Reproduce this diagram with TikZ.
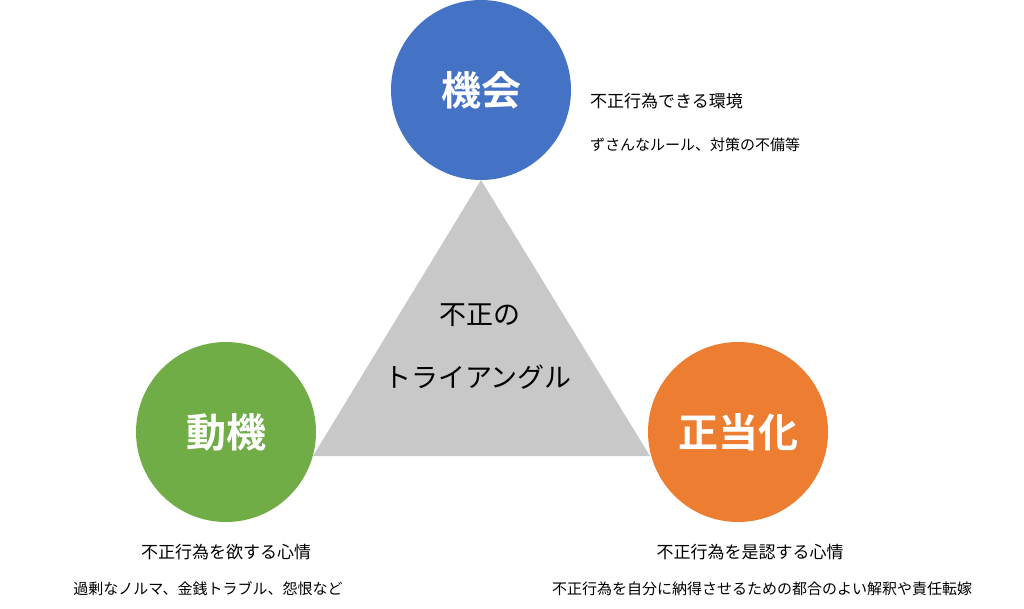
\documentclass[tikz,border=0pt]{standalone}
\usepackage{fontspec}
\newfontfamily\cjk{Noto Sans CJK JP}
\newfontfamily\cjkb{Noto Sans CJK JP Bold}
\definecolor{cblue}{HTML}{4472C4}
\definecolor{cgreen}{HTML}{70AD47}
\definecolor{corange}{HTML}{ED7D31}
\definecolor{cgray}{HTML}{C8C8C8}
\begin{document}
\begin{tikzpicture}[x=1pt,y=-1pt,
  circ/.style={circle,minimum size=180pt,inner sep=0pt,text=white,font=\cjkb\fontsize{40}{40}\selectfont},
  lbl/.style={inner sep=0pt,font=\cjk\fontsize{17}{17}\selectfont},
  sub/.style={inner sep=0pt,font=\cjk\fontsize{15}{15}\selectfont}]
\useasboundingbox[fill=white] (0,0) rectangle (1024,608);
\coordinate (A) at (481,180);
\coordinate (B) at (313,456);
\coordinate (C) at (650,456);
\fill[cgray] (A) -- (B) -- (C) -- cycle;
\node[circ,fill=cblue] (kikai) at (481,90) {機会};
\node[circ,fill=cgreen] (doki) at (226,432) {動機};
\node[circ,fill=corange] (seito) at (738,432) {正当化};
\node[inner sep=0pt,font=\cjk\fontsize{27}{27}\selectfont] (t1) at (480,315) {不正の};
\node[inner sep=0pt,font=\cjk\fontsize{27}{27}\selectfont] (t2) at (478,377) {トライアングル};
\node[lbl,anchor=west] (k1) at (590,101) {不正行為できる環境};
\node[sub,anchor=west] (k2) at (590,145) {ずさんなルール、対策の不備等};
\node[lbl] (d1) at (226,552) {不正行為を欲する心情};
\node[sub] (d2) at (208,589) {過剰なノルマ、金銭トラブル、怨恨など};
\node[lbl] (s1) at (750,552) {不正行為を是認する心情};
\node[sub] (s2) at (762,589) {不正行為を自分に納得させるための都合のよい解釈や責任転嫁};
\end{tikzpicture}
\end{document}
